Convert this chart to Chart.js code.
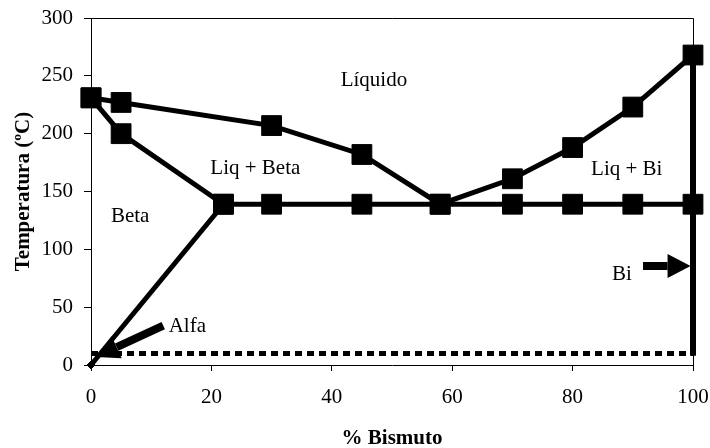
<!DOCTYPE html>
<html>
<head>
<meta charset="utf-8">
<script src="https://cdn.jsdelivr.net/npm/chart.js@4/dist/chart.umd.min.js"></script>
<style>
html,body{margin:0;padding:0;background:#fff;}
#wrap{width:710px;height:448px;position:relative;}
</style>
</head>
<body>
<div id="wrap"><canvas id="c" width="710" height="448"></canvas></div>
<script>
// ---- data ----
const liquidusX = [0, 5, 30, 45, 58, 70, 80, 90, 100];
const liquidusY = [231, 227, 207, 182, 139, 161, 188, 223, 268];
const betaX = [0, 5, 22];
const betaY = [231, 200, 139];
const eutecticX = [22, 30, 45, 58, 70, 80, 90, 100];
const eutecticY = [139, 139, 139, 139, 139, 139, 139, 139];
const alfaX = [22, 0];
const alfaY = [139, 0];
const biX = [100, 100];
const biY = [268, 8];
const alfaLimitX = [0, 100];
const alfaLimitY = [10, 10];
const xTicks = [0, 20, 40, 60, 80, 100];
const yTicks = [0, 50, 100, 150, 200, 250, 300];
const regionLabels = ["Líquido", "Liq + Beta", "Beta", "Liq + Bi", "Bi", "Alfa"];
const regionLabelX = [47, 27.3, 6.5, 89, 88.2, 16];
const regionLabelY = [246, 170, 128, 169, 78.5, 33];
const arrowFromX = [12, 91.7];
const arrowFromY = [34, 85.6];
const arrowToX = [0.8, 99.6];
const arrowToY = [7, 85.6];

const pts = (xs, ys) => xs.map((x, i) => ({x: x, y: ys[i]}));
const FONT = "'Liberation Serif', 'Times New Roman', serif";

const base = {
  borderColor: '#000', backgroundColor: '#000', borderWidth: 5,
  pointStyle: 'rect', pointRadius: 14, pointBorderWidth: 1,
  pointBackgroundColor: '#000', pointBorderColor: '#000',
  showLine: true, clip: false, tension: 0, borderJoinStyle: 'miter'
};

const overlay = {
  id: 'overlay',
  afterDatasetsDraw(chart) {
    const ctx = chart.ctx, xs = chart.scales.x, ys = chart.scales.y, a = chart.chartArea;
    ctx.save();
    // frame top/right
    ctx.strokeStyle = '#000'; ctx.lineWidth = 1;
    ctx.beginPath();
    ctx.moveTo(a.left, a.top + 0.5); ctx.lineTo(a.right + 0.5, a.top + 0.5); ctx.lineTo(a.right + 0.5, a.bottom);
    ctx.stroke();
    // arrows
    for (let i = 0; i < arrowFromX.length; i++) {
      const x0 = xs.getPixelForValue(arrowFromX[i]), y0 = ys.getPixelForValue(arrowFromY[i]);
      const x1 = xs.getPixelForValue(arrowToX[i]), y1 = ys.getPixelForValue(arrowToY[i]);
      const ang = Math.atan2(y1 - y0, x1 - x0);
      const hl = 23, hw = 12;
      const bx = x1 - hl * Math.cos(ang), by = y1 - hl * Math.sin(ang);
      ctx.strokeStyle = '#000'; ctx.lineWidth = 8; ctx.lineCap = 'butt';
      ctx.beginPath(); ctx.moveTo(x0, y0); ctx.lineTo(bx, by); ctx.stroke();
      ctx.fillStyle = '#000';
      ctx.beginPath();
      ctx.moveTo(x1, y1);
      ctx.lineTo(bx + hw * Math.sin(ang), by - hw * Math.cos(ang));
      ctx.lineTo(bx - hw * Math.sin(ang), by + hw * Math.cos(ang));
      ctx.closePath(); ctx.fill();
    }
    // labels
    ctx.fillStyle = '#000';
    ctx.font = "21px " + FONT;
    ctx.textAlign = 'center'; ctx.textBaseline = 'middle';
    regionLabels.forEach((t, i) => {
      ctx.fillText(t, xs.getPixelForValue(regionLabelX[i]), ys.getPixelForValue(regionLabelY[i]));
    });
    ctx.restore();
  }
};

new Chart(document.getElementById('c'), {
  type: 'line',
  data: {
    datasets: [
      Object.assign({}, base, {label: 'Liquidus', data: pts(liquidusX, liquidusY)}),
      Object.assign({}, base, {label: 'Beta', data: pts(betaX, betaY)}),
      Object.assign({}, base, {label: 'Eutectic', data: pts(eutecticX, eutecticY)}),
      Object.assign({}, base, {label: 'Alfa', data: pts(alfaX, alfaY), pointStyle: 'rectRot', pointRadius: [0, 4]}),
      Object.assign({}, base, {label: 'Bi', data: pts(biX, biY), pointRadius: 0, borderWidth: 6}),
      Object.assign({}, base, {label: 'AlfaLimit', data: pts(alfaLimitX, alfaLimitY), pointRadius: 0, borderDash: [7, 5], borderCapStyle: 'butt'})
    ]
  },
  options: {
    responsive: false, animation: false,
    layout: {padding: {top: 18, right: 17, left: 0, bottom: 0}},
    plugins: {legend: {display: false}, tooltip: {enabled: false}},
    scales: {
      x: {
        type: 'linear', min: 0, max: 100,
        afterBuildTicks: s => { s.ticks = xTicks.map(v => ({value: v})); },
        afterFit: s => { s.height = 83; s.paddingLeft = 0; s.paddingRight = 0; },
        grid: {display: true, drawOnChartArea: false, drawTicks: true, tickLength: 6, color: '#000'},
        border: {display: true, color: '#000', width: 1},
        ticks: {color: '#000', font: {family: FONT, size: 21}, padding: 14, maxRotation: 0},
        title: {display: true, text: '% Bismuto', color: '#000', font: {family: FONT, size: 21, weight: 'bold', lineHeight: 1}, padding: {top: 0, bottom: -1.5}}
      },
      y: {
        type: 'linear', min: 0, max: 300,
        afterBuildTicks: s => { s.ticks = yTicks.map(v => ({value: v})); },
        afterFit: s => { s.width = 91; s.paddingTop = 0; s.paddingBottom = 0; },
        grid: {display: true, drawOnChartArea: false, drawTicks: true, tickLength: 7, color: '#000'},
        border: {display: true, color: '#000', width: 1},
        ticks: {color: '#000', font: {family: FONT, size: 21}, padding: 11},
        title: {display: true, text: 'Temperatura (ºC)', color: '#000', font: {family: FONT, size: 21, weight: 'bold', lineHeight: 1}, padding: {top: 13, bottom: 0}}
      }
    }
  },
  plugins: [overlay]
});
</script>
</body>
</html>
